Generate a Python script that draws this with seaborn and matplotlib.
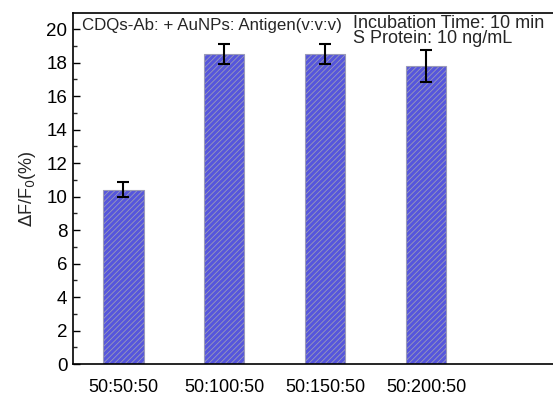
import matplotlib
matplotlib.use("Agg")
import matplotlib.pyplot as plt
import seaborn as sns
import pandas as pd
from matplotlib.ticker import MultipleLocator

categories = ["50:50:50", "50:100:50", "50:150:50", "50:200:50"]
values = [10.4, 18.5, 18.5, 17.8]
errors = [0.45, 0.6, 0.6, 0.95]

sns.set_theme(style="ticks")
plt.rcParams['font.family'] = ['Liberation Sans', 'DejaVu Sans']
plt.rcParams['hatch.color'] = '#23237a'
plt.rcParams['hatch.linewidth'] = 0.6

df = pd.DataFrame({"ratio": categories, "value": values})

fig = plt.figure(figsize=(5.53, 3.97), dpi=100)
ax = fig.add_axes([0.132, 0.083, 0.912, 0.884])

sns.barplot(data=df, x="ratio", y="value", ax=ax, color="#5656dc",
            width=0.4, errorbar=None, saturation=1,
            edgecolor="#9a9ab8", linewidth=0.8, hatch="//////")
ax.errorbar(range(len(values)), values, yerr=errors, fmt="none",
            ecolor="black", elinewidth=1.5, capsize=4, capthick=1.5)

ax.set_xlim(-0.5, 4.5)
ax.set_ylim(0, 20.96)
ax.yaxis.set_major_locator(MultipleLocator(2))
ax.yaxis.set_minor_locator(MultipleLocator(1))
ax.tick_params(axis="y", which="major", direction="in", length=5, width=1,
               labelsize=13.5, colors="black", pad=4)
ax.tick_params(axis="y", which="minor", direction="in", length=3, width=1)
ax.tick_params(axis="x", length=0, labelsize=13, pad=11, colors="black")
for s in ax.spines.values():
    s.set_linewidth(1.2)
    s.set_color("black")
    s.set_visible(True)

ax.set_xlabel("")
ax.set_ylabel(r"$\Delta$F/F$_0$(%)", fontsize=13, labelpad=6)

ax.text(0.018, 0.985, "CDQs-Ab: + AuNPs: Antigen(v:v:v)", transform=ax.transAxes,
        fontsize=12.2, va="top", ha="left")
ax.text(0.555, 0.995, "Incubation Time: 10 min\nS Protein: 10 ng/mL",
        transform=ax.transAxes, fontsize=13, va="top", ha="left",
        linespacing=0.88)

fig.savefig("out.png", dpi=100)
